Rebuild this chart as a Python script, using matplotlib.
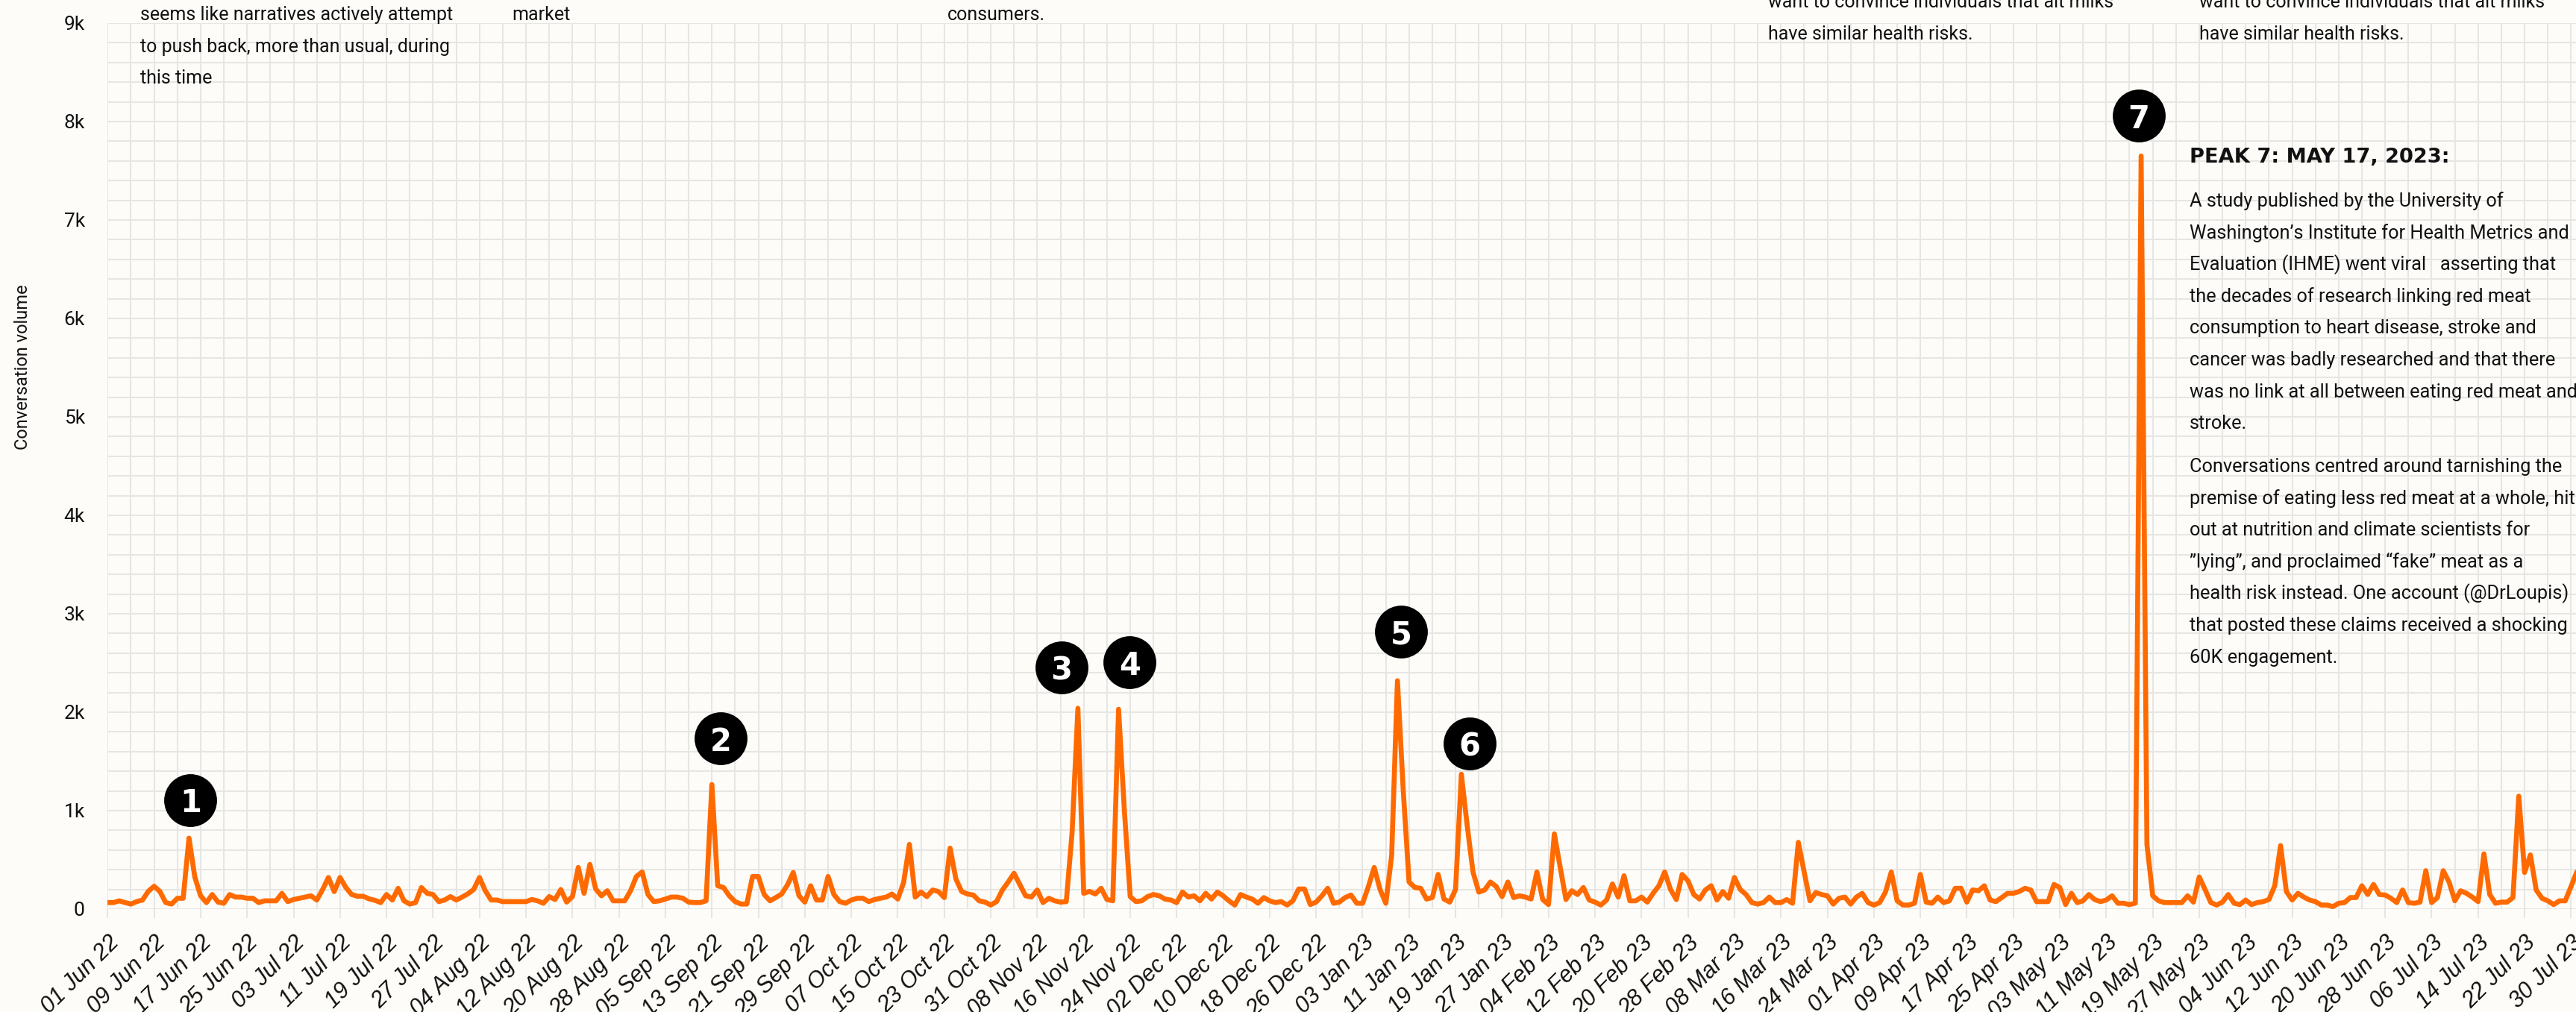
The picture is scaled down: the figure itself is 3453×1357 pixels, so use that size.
"""Volumen diario de conversación (jun 2022 - jul 2023) con los picos anotados."""

import matplotlib
matplotlib.use("Agg")
import matplotlib.pyplot as plt
import matplotlib.transforms as mtransforms
import pandas as pd
from matplotlib.ticker import FixedLocator, FuncFormatter, MultipleLocator

W, H = 3453, 1357
BG = "#fdfcf8"
GRID = "#e6e6e4"
ORANGE = "#ff6a00"
INK = "#111111"
SANS = "Roboto"

START = "2022-06-01"
END = "2023-07-31"

# one value per day, 01 Jun 22 -> 31 Jul 23
VOLUME = [
    66, 66, 84, 66, 51, 76, 92, 181, 232, 178,
    66, 51, 110, 110, 721, 326, 135, 66, 148, 71,
    59, 148, 122, 122, 110, 110, 66, 84, 84, 84,
    160, 76, 97, 110, 122, 135, 92, 199, 321, 178,
    321, 219, 148, 130, 130, 104, 89, 66, 148, 92,
    211, 84, 51, 66, 219, 160, 148, 76, 92, 127,
    92, 122, 155, 199, 321, 186, 92, 92, 76, 76,
    76, 76, 76, 97, 84, 59, 127, 97, 199, 71,
    127, 423, 160, 454, 205, 135, 186, 84, 84, 84,
    186, 331, 377, 148, 76, 84, 102, 122, 122, 110,
    71, 66, 66, 84, 1265, 237, 219, 135, 76, 51,
    51, 331, 331, 148, 84, 117, 153, 245, 372, 135,
    71, 237, 92, 92, 331, 148, 76, 59, 92, 110,
    110, 76, 97, 110, 122, 153, 102, 270, 657, 122,
    173, 127, 194, 178, 117, 619, 306, 178, 153, 143,
    84, 71, 41, 76, 194, 275, 364, 250, 135, 122,
    194, 66, 110, 84, 71, 76, 780, 2040, 160, 180,
    153, 211, 97, 84, 2030, 1000, 127, 76, 84, 127,
    148, 135, 102, 92, 66, 173, 122, 135, 84, 160,
    102, 173, 135, 84, 41, 148, 122, 102, 59, 117,
    84, 66, 76, 41, 84, 204, 204, 46, 71, 135,
    211, 59, 71, 117, 143, 59, 59, 229, 423, 199,
    59, 543, 2320, 1200, 275, 219, 211, 102, 117, 352,
    102, 71, 199, 1370, 850, 377, 173, 194, 275, 229,
    127, 275, 117, 135, 122, 102, 377, 97, 46, 764,
    428, 97, 186, 148, 219, 92, 71, 41, 92, 255,
    122, 339, 84, 84, 122, 71, 160, 237, 377, 199,
    97, 352, 288, 148, 102, 194, 237, 92, 178, 110,
    321, 199, 148, 66, 51, 66, 122, 66, 66, 97,
    59, 678, 377, 84, 168, 148, 135, 51, 110, 122,
    51, 122, 160, 66, 41, 66, 173, 377, 84, 41,
    41, 59, 352, 71, 59, 122, 66, 84, 211, 211,
    71, 194, 186, 237, 92, 76, 117, 160, 160, 178,
    211, 194, 76, 76, 76, 250, 219, 46, 160, 66,
    84, 148, 97, 76, 92, 135, 59, 59, 46, 60,
    7650, 657, 135, 84, 66, 66, 66, 66, 135, 71,
    326, 199, 66, 41, 71, 148, 59, 46, 92, 46,
    66, 76, 97, 237, 645, 178, 92, 160, 122, 92,
    76, 41, 41, 25, 59, 66, 117, 117, 237, 148,
    250, 148, 143, 110, 66, 194, 66, 59, 71, 390,
    66, 117, 390, 275, 84, 186, 160, 122, 76, 561,
    148, 59, 71, 71, 117, 1147, 372, 550, 194, 110,
    84, 46, 84, 84, 230, 380,
]

PEAK_DATES = ["2022-06-15", "2022-09-13", "2022-11-15", "2022-11-22",
              "2023-01-09", "2023-01-20", "2023-05-17"]
PEAK_LABELS = ["1", "2", "3", "4", "5", "6", "7"]
# desplazamiento del círculo respecto al pico (px)
MARKER_SHIFT = [(2, 51), (12, 62), (-22, 55), (15, 63), (5, 66), (11, 41), (-3, 54)]

# notas de arriba (cortadas por el borde superior): x, líneas con su línea base
TOP_NOTES = [
    (188, [("seems like narratives actively attempt", 27),
           ("to push back, more than usual, during", 70),
           ("this time", 112)]),
    (686, [("market", 27)]),
    (1270, [("consumers.", 27)]),
    (2370, [("want to convince individuals that alt milks", 10),
            ("have similar health risks.", 53)]),
    (2948, [("want to convince individuals that alt milks", 10),
            ("have similar health risks.", 53)]),
]

PEAK7_TITLE = "PEAK 7: MAY 17, 2023:"
PEAK7_PARAS = [
    ["A study published by the University of",
     "Washington\u2019s Institute for Health Metrics and",
     "Evaluation (IHME) went viral   asserting that",
     "the decades of research linking red meat",
     "consumption to heart disease, stroke and",
     "cancer was badly researched and that there",
     "was no link at all between eating red meat and",
     "stroke."],
    ["Conversations centred around tarnishing the",
     "premise of eating less red meat at a whole, hit",
     "out at nutrition and climate scientists for",
     "\u201dlying\u201d, and proclaimed \u201cfake\u201d meat as a",
     "health risk instead. One account (@DrLoupis)",
     "that posted these claims received a shocking",
     "60K engagement."],
]


def fpos(x, y):
    """pixeles (desde arriba a la izquierda) -> fracción de figura"""
    return x / W, 1 - y / H


fig = plt.figure(figsize=(W / 100, H / 100), dpi=100, facecolor=BG)
ax = fig.add_axes([144.3 / W, 1 - 1219 / H, 1 - 144.3 / W, (1219 - 31) / H])
ax.set_facecolor(BG)

x0 = pd.Timestamp(START)
dates = pd.date_range(START, periods=len(VOLUME), freq="D")
ax.plot(dates, VOLUME, color=ORANGE, lw=4.8, solid_joinstyle="round",
        solid_capstyle="round", zorder=3)

ax.set_ylim(0, 9000)
ax.set_xlim(x0, x0 + pd.Timedelta(days=424.85))

ticks = pd.date_range(START, END, freq="8D")
ax.set_xticks(ticks, [t.strftime("%d %b %y") for t in ticks])
ax.xaxis.set_minor_locator(FixedLocator(
    matplotlib.dates.date2num(pd.date_range(START, END, freq="4D"))))
ax.yaxis.set_major_locator(MultipleLocator(1000))
ax.yaxis.set_minor_locator(MultipleLocator(200))
ax.yaxis.set_major_formatter(FuncFormatter(
    lambda v, _: "0" if v == 0 else f"{int(v / 1000)}k"))

for lab in ax.get_xticklabels():
    lab.set(rotation=45, ha="right", va="top", rotation_mode="anchor",
            fontstyle="italic", family="Liberation Sans", fontsize=22,
            color=INK)
for lab in ax.get_yticklabels():
    lab.set(family=SANS, fontsize=19, color=INK)

ax.grid(which="both", color=GRID, lw=1.5)
ax.set_axisbelow(True)
for s in ax.spines.values():
    s.set_visible(False)
ax.tick_params(axis="x", which="major", length=8.6, width=1.5, color=GRID, pad=13)
ax.tick_params(axis="x", which="minor", length=0)
ax.tick_params(axis="y", which="both", length=0, pad=22)

fig.text(*fpos(31, 492), "Conversation volume", rotation=90, ha="center",
         va="center", family=SANS, fontsize=17, color=INK)

# círculos numerados sobre cada pico
for fecha, etiqueta, (dx, dy) in zip(PEAK_DATES, PEAK_LABELS, MARKER_SHIFT):
    ts = pd.Timestamp(fecha)
    v = VOLUME[(ts - x0).days]
    off = mtransforms.offset_copy(ax.transData, fig=fig, x=dx, y=dy, units="dots")
    ax.plot([ts], [v], marker="o", ms=51, color="black", mew=0,
            transform=off, clip_on=False, zorder=5)
    ax.text(ts, v, etiqueta, transform=off, ha="center", va="center_baseline",
            color="white", fontsize=30, fontweight="bold", family="DejaVu Sans",
            zorder=6)

for x, lineas in TOP_NOTES:
    for texto, base in lineas:
        fig.text(*fpos(x, base), texto, ha="left", va="baseline",
                 family=SANS, fontsize=18, color=INK)

fig.text(*fpos(2935, 218), PEAK7_TITLE, ha="left", va="baseline",
         family="DejaVu Sans", fontweight="bold", fontsize=19.6, color=INK)
base = 277.5
for parrafo in PEAK7_PARAS:
    for linea in parrafo:
        fig.text(*fpos(2935, base), linea, ha="left", va="baseline",
                 family=SANS, fontsize=18.3, color=INK)
        base += 42.5
    base += 16

fig.savefig("out.png", dpi=100, facecolor=BG)
